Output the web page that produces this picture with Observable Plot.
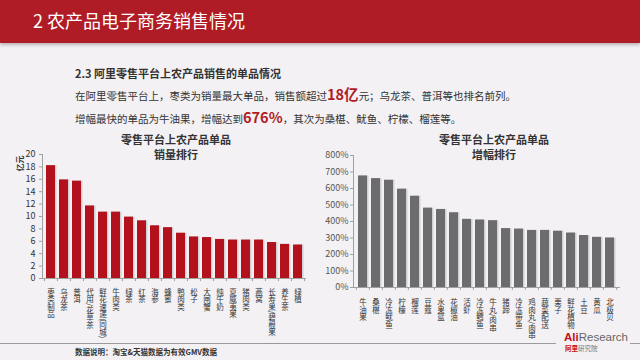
<!DOCTYPE html>
<html><head><meta charset="utf-8">
<script src="https://cdn.jsdelivr.net/npm/d3@7"></script>
<script src="https://cdn.jsdelivr.net/npm/@observablehq/plot@0.6"></script>
<style>
html,body{margin:0;padding:0;}
body{width:640px;height:360px;position:relative;overflow:hidden;background:#f3f1f3;font-family:"Noto Sans CJK SC","Noto Sans",sans-serif;}
#header{position:absolute;left:0;top:0;width:640px;height:43px;background:#b01c25;box-shadow:0 2px 3px rgba(0,0,0,0.25);}
#header span{position:absolute;left:33px;top:8px;color:#fff;font-size:18px;line-height:24px;white-space:nowrap;}
.txt{position:absolute;left:75px;color:#333;font-size:10.5px;line-height:16px;white-space:nowrap;}
.hl{color:#b01c25;font-weight:bold;font-size:14.5px;}
.ctitle{position:absolute;width:200px;font-size:11px;font-weight:bold;color:#333;text-align:center;line-height:15px;}
.chart{position:absolute;top:130px;}
.chart g[aria-label="x-axis tick label"] text{writing-mode:vertical-rl;text-anchor:start;}
#ylab{position:absolute;left:11px;top:158px;font-size:8px;font-weight:bold;color:#333;transform:rotate(-90deg);transform-origin:center;white-space:nowrap;}
.line{position:absolute;top:343px;height:1px;background:#9a9a9a;}
#caption{position:absolute;left:75px;top:346px;font-size:7.5px;font-weight:bold;color:#333;white-space:nowrap;line-height:11px;}
#logo1{position:absolute;left:564px;top:331px;white-space:nowrap;font-family:Arial,"Liberation Sans",sans-serif;font-size:11.5px;line-height:12px;height:12px;}
#logo2{position:absolute;left:565px;top:345px;white-space:nowrap;font-size:6.5px;line-height:7px;height:7px;}
</style></head>
<body>
<div id="header"><span>2 农产品电子商务销售情况</span></div>
<div class="txt" style="top:65px;font-weight:bold;font-size:11px;">2.3 阿里零售平台上农产品销售的单品情况</div>
<div class="txt" style="top:86px;">在阿里零售平台上，枣类为销量最大单品，销售额超过<span class="hl">18亿</span>元；乌龙茶、普洱等也排名前列。</div>
<div class="txt" style="top:109px;">增幅最快的单品为牛油果，增幅达到<span class="hl">676%</span>，其次为桑椹、鱿鱼、柠檬、榴莲等。</div>
<div class="ctitle" style="left:76px;top:132px;">零售平台上农产品单品<br>销量排行</div>
<div class="ctitle" style="left:394px;top:132px;">零售平台上农产品单品<br>增幅排行</div>
<div id="ylab">亿元</div>
<div id="left" class="chart" style="left:0px;"></div>
<div id="right" class="chart" style="left:320px;"></div>
<div class="line" style="left:0;width:556px;"></div>
<div class="line" style="left:630px;width:10px;"></div>
<div id="caption">数据说明：淘宝&amp;天猫数据为有效GMV数据</div>
<div id="logo1"><span style="color:#c8101b;font-weight:bold;">Ali</span><span style="color:#666;">Research</span></div>
<div id="logo2"><span style="color:#c8101b;font-weight:bold;">阿里</span><span style="color:#777;">研究院</span></div>
<script>
const salesCats = ["枣类制品","乌龙茶","普洱","代用/花草茶","鲜花速递(同城)","牛肉类","绿茶","红茶","海参","蜂蜜","鸭肉类","松子","大闸蟹","纯牛奶","夏威夷果","猪肉类","燕窝","长寿果/碧根果","养生茶","绿植"];
const salesValues = [18.2,15.9,15.7,11.7,10.7,10.7,9.9,9.3,8.5,8.2,7.3,6.7,6.6,6.3,6.2,6.2,6.2,5.8,5.5,5.4];
const salesTicks = [0,2,4,6,8,10,12,14,16,18,20];

const growthCats = ["牛油果","桑椹","冷冻鱿鱼","柠檬","榴莲","豆蔻","水果篮","花椒油","活虾","冷冻鳕鱼","牛丸/肉串","猪蹄","冷冻带鱼","鸡肉丸/肉串","蔬菜配送","栗子","鲜花植物","土豆","黄瓜","北极贝"];
const growthValues = [676,660,650,596,553,481,473,453,413,409,405,357,354,346,346,341,330,315,304,300];
const growthTicks = [0,100,200,300,400,500,600,700,800];

const font = '"Noto Sans CJK SC","Noto Sans",sans-serif';

function makeChart(cats, vals, ticks, opts) {
  const data = cats.map((c, i) => ({cat: c, v: vals[i]}));
  const step = (opts.width - opts.marginLeft - opts.marginRight) / cats.length;
  const plot = Plot.plot({
    width: opts.width, height: 215,
    marginLeft: opts.marginLeft, marginRight: opts.marginRight,
    marginTop: opts.marginTop, marginBottom: opts.marginBottom,
    style: {background: "transparent", fontFamily: font, fontSize: "9px", color: opts.tickColor},
    x: {domain: cats, paddingInner: 0.32, paddingOuter: 0.16, label: null},
    y: {domain: [ticks[0], ticks[ticks.length - 1]], label: null},
    marks: [
      Plot.barY(data, {x: "cat", y: "v", fill: "#d2cfd2", dx: 1.5}),
      Plot.barY(data, {x: "cat", y: "v", fill: opts.fill}),
      Plot.frame({anchor: "left", stroke: "#a0a0a0"}),
      Plot.frame({anchor: "bottom", stroke: "#a0a0a0"}),
      Plot.ruleX(cats, {x: d => d, dx: -step / 2, y1: ticks[0], y2: -opts.tickLen, stroke: "#a0a0a0"}),
      Plot.ruleX([cats[cats.length - 1]], {x: d => d, dx: step / 2, y1: ticks[0], y2: -opts.tickLen, stroke: "#a0a0a0"}),
      Plot.axisY({ticks: ticks, tickFormat: opts.fmt, tickSize: 3, tickPadding: opts.tickPad, stroke: "#a0a0a0", fontSize: 9, fill: opts.tickColor}),
      Plot.axisX({tickSize: 0, tickPadding: opts.labelPad, fontSize: 7.5, fill: "#333"})
    ]
  });
  d3.select(plot).selectAll('g[aria-label="x-axis tick label"] text').attr("dy", null);
  return plot;
}

document.getElementById("left").appendChild(makeChart(salesCats, salesValues, salesTicks, {
  width: 315, marginLeft: 42, marginRight: 10, marginTop: 24, marginBottom: 67,
  fill: "#b3111b", fmt: d => d, tickColor: "#333", tickPad: 4, labelPad: 4.5, tickLen: 0.5
}));
document.getElementById("right").appendChild(makeChart(growthCats, growthValues, growthTicks, {
  width: 320, marginLeft: 33, marginRight: 21, marginTop: 25, marginBottom: 58,
  fill: "#6c6b6d", fmt: d => d + "%", tickColor: "#555", tickPad: 2, labelPad: 6, tickLen: 18
}));
</script>
</body></html>
